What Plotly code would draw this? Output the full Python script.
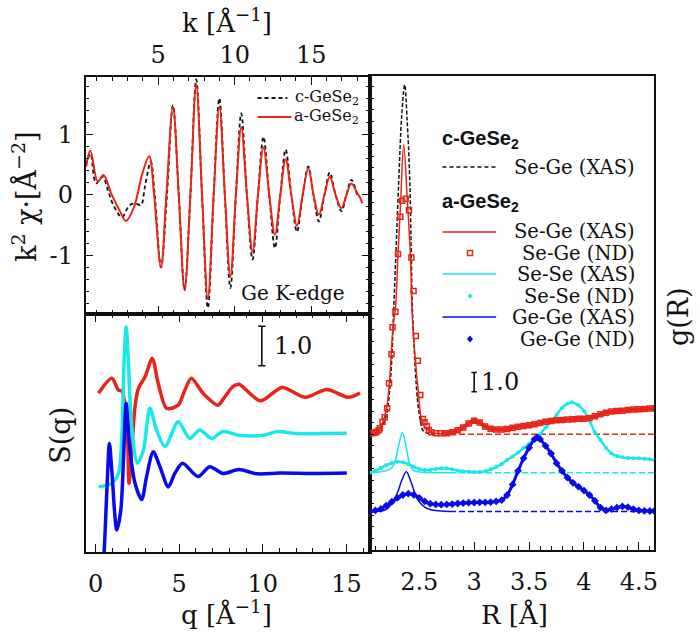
import plotly.graph_objects as go

# ---------------- data ----------------
# EXAFS k^2 chi(k), Ge K-edge
k_a = [0.30, 0.58, 1.06, 1.43, 1.93, 2.47, 2.90, 3.44, 3.98, 4.42, 4.74, 5.19, 5.54, 5.97, 6.35, 6.73, 7.11, 7.49,
       7.87, 8.25, 8.63, 9.00, 9.36, 9.72, 10.08, 10.43, 10.80, 11.17, 11.52, 11.88, 12.26, 12.63, 12.98, 13.33,
       13.70, 14.07, 14.44, 14.81, 15.15, 15.50, 15.86, 16.21, 16.59, 16.97, 17.30, 17.62, 18.03, 18.20, 18.33]
chi_a = [0.47, 0.73, 0.22, 0.33, 0.03, -0.25, -0.43, -0.19, 0.36, 0.64, 0.0, -1.20, 0.0, 1.46, 0.0, -1.58, 0.0, 1.82,
         0.0, -1.72, 0.0, 1.46, 0.0, -1.35, 0.0, 1.12, 0.0, -0.94, 0.0, 0.79, 0.0, -0.66, 0.0, 0.59,
         0.0, -0.51, 0.0, 0.44, 0.0, -0.33, 0.0, 0.30, 0.0, -0.22, 0.0, 0.19, 0.02, -0.05, -0.14]
k_c = [0.30, 0.58, 0.95, 1.38, 1.70, 2.03, 2.64, 3.00, 3.29, 3.60, 3.88, 4.15, 4.52, 4.78, 5.19, 5.58, 5.97, 6.35,
       6.73, 7.11, 7.49, 7.87, 8.25, 8.63, 9.00, 9.36, 9.72, 10.08, 10.43, 10.80, 11.17, 11.52, 11.88, 12.26,
       12.63, 12.98, 13.33, 13.70, 14.07, 14.44, 14.81, 15.15, 15.50, 15.86, 16.21, 16.59, 16.97, 17.30, 17.62, 18.05]
chi_c = [0.50, 0.68, 0.19, 0.30, 0.10, -0.14, -0.37, -0.22, -0.15, -0.15, -0.17, 0.15, 0.55, 0.0, -1.20, 0.0, 1.48, 0.0,
         -1.57, 0.0, 1.91, 0.0, -1.87, 0.0, 1.60, 0.0, -1.54, 0.0, 1.35, 0.0, -1.07, 0.0, 0.96, 0.0,
         -0.88, 0.0, 0.75, 0.0, -0.61, 0.0, 0.47, 0.0, -0.44, 0.0, 0.37, 0.0, -0.27, 0.0, 0.25, -0.05]

# Partial structure factors S(q)
q_sege = [0.18, 0.97, 1.37, 1.57, 1.87, 2.00, 2.16, 2.36, 2.56, 2.96, 3.39, 3.75, 4.25, 4.94, 5.34, 5.73, 6.43,
          7.32, 7.68, 8.21, 8.57, 9.86, 11.15, 12.54, 13.83, 15.12, 15.81]
s_sege = [1.02, 1.40, 1.10, 1.08, 0.34, -1.26, -0.42, 0.68, 1.14, 1.44, 1.90, 1.27, 0.64, 0.72, 1.10, 1.40, 1.02,
          0.72, 0.90, 1.19, 1.25, 0.83, 1.17, 0.92, 1.12, 0.92, 1.03]
q_sese = [0.18, 0.97, 1.37, 1.57, 1.71, 1.83, 1.96, 2.16, 2.50, 2.86, 3.25, 3.65, 4.15, 4.94, 5.63, 6.23, 6.92,
          7.62, 8.57, 10.06, 10.85, 12.0, 13.5, 15.02]
s_sese = [-0.35, -0.26, -0.01, 0.92, 2.86, 3.70, 2.86, 1.17, 0.25, 0.58, 1.64, 1.09, 0.67, 1.30, 0.88, 1.09, 0.88,
          1.05, 0.96, 0.96, 1.05, 1.00, 1.00, 1.01]
q_gege = [0.45, 0.52, 0.67, 0.83, 0.97, 1.27, 1.51, 1.67, 1.83, 2.06, 2.36, 2.76, 3.05, 3.45, 3.85, 4.35, 4.74,
          5.20, 6.13, 6.82, 7.62, 8.57, 9.66, 11.0, 13.0, 15.02]
s_gege = [-1.3, -0.95, 0.49, 1.75, 1.08, -0.44, 0.06, 1.33, 2.76, 1.58, 0.74, 0.33, 0.91, 1.54, 1.16, 0.65, 0.99,
          1.25, 0.91, 1.16, 0.99, 1.09, 0.98, 1.00, 0.99, 1.00]

# Pair distribution functions g(R)
r_c_sege_xas = [2.05, 2.10, 2.15, 2.20, 2.24, 2.267, 2.29, 2.315, 2.34, 2.367, 2.39, 2.412, 2.425, 2.437, 2.442,
                2.465, 2.487, 2.51, 2.533, 2.58, 2.65]
g_c_sege_xas = [0.0, 0.05, 0.3, 1.0, 3.0, 6.5, 9.8, 13.4, 16.5, 18.1, 16.2, 13.4, 10.0, 6.5, 5.9,
                3.2, 1.6, 0.7, 0.2, 0.05, 0.0]
r_sege_xas = [2.05, 2.10, 2.15, 2.20, 2.225, 2.261, 2.283, 2.306, 2.331, 2.358, 2.391, 2.419, 2.433, 2.442,
              2.487, 2.533, 2.609, 2.70, 2.78]
g_sege_xas = [0.0, 0.05, 0.4, 1.3, 2.46, 5.57, 6.52, 9.28, 12.13, 15.0, 12.13, 9.28, 6.52, 5.57,
              2.46, 0.56, 0.10, 0.02, 0.0]
r_sege_nd = [2.05, 2.07, 2.09, 2.11, 2.13, 2.141, 2.165, 2.186, 2.207, 2.225, 2.247, 2.256, 2.283, 2.306, 2.328,
             2.343, 2.376, 2.406, 2.428, 2.448, 2.469, 2.487, 2.509, 2.533, 2.548, 2.569, 2.587, 2.61, 2.65,
             2.70, 2.75, 2.80, 2.85, 2.90, 2.95, 3.00, 3.05, 3.10, 3.15, 3.20, 3.25, 3.30, 3.35, 3.40, 3.45,
             3.50, 3.55, 3.60, 3.65, 3.70, 3.75, 3.80, 3.85, 3.90, 3.95, 4.00, 4.05, 4.10, 4.15, 4.20, 4.25,
             4.30, 4.35, 4.40, 4.45, 4.50, 4.55, 4.60, 4.64]
g_sege_nd = [0.05, 0.05, 0.08, 0.12, 0.20, 0.31, 0.65, 0.88, 1.34, 2.64, 4.14, 5.54, 6.35, 9.34, 11.27,
             12.1, 12.2, 11.6, 9.15, 7.42, 5.09, 3.81, 2.03, 0.79, 0.62, 0.42, 0.22, 0.10, 0.05,
             0.05, 0.05, 0.10, 0.20, 0.35, 0.55, 0.70, 0.60, 0.40, 0.28, 0.25, 0.25, 0.27, 0.33, 0.38, 0.42,
             0.46, 0.52, 0.58, 0.64, 0.68, 0.72, 0.74, 0.76, 0.78, 0.80, 0.80, 0.84, 0.93, 1.03, 1.11, 1.17,
             1.20, 1.22, 1.25, 1.28, 1.29, 1.31, 1.33, 1.34]
r_sese_xas = [2.05, 2.15, 2.20, 2.25, 2.28, 2.31, 2.346, 2.38, 2.41, 2.44, 2.50, 2.60, 2.78]
g_sese_xas = [0.0, 0.05, 0.12, 0.25, 0.6, 1.35, 2.10, 1.35, 0.5, 0.15, 0.04, 0.01, 0.0]
r_sese_nd = [2.05, 2.10, 2.15, 2.20, 2.25, 2.30, 2.35, 2.40, 2.45, 2.50, 2.55, 2.60, 2.65, 2.70, 2.75, 2.80,
             2.85, 2.90, 2.95, 3.00, 3.05, 3.10, 3.15, 3.20, 3.25, 3.30, 3.35, 3.40, 3.45, 3.50, 3.55, 3.60,
             3.65, 3.70, 3.75, 3.80, 3.85, 3.89, 3.95, 4.00, 4.05, 4.10, 4.15, 4.20, 4.25, 4.30, 4.35, 4.40,
             4.45, 4.50, 4.55, 4.60, 4.64]
g_sese_nd = [0.0, 0.10, 0.25, 0.40, 0.50, 0.57, 0.55, 0.45, 0.32, 0.20, 0.14, 0.15, 0.20, 0.23, 0.23, 0.18,
             0.12, 0.08, 0.05, 0.04, 0.04, 0.08, 0.18, 0.30, 0.45, 0.66, 0.85, 1.05, 1.28, 1.50, 1.72, 2.00,
             2.35, 2.62, 3.00, 3.36, 3.58, 3.66, 3.50, 3.20, 2.70, 2.10, 1.70, 1.30, 1.00, 0.87, 0.80, 0.77,
             0.76, 0.75, 0.73, 0.70, 0.66]
r_gege_xas = [2.05, 2.15, 2.20, 2.25, 2.30, 2.34, 2.382, 2.42, 2.46, 2.50, 2.55, 2.60, 2.65, 2.70, 2.78]
g_gege_xas = [0.0, 0.02, 0.10, 0.40, 0.95, 1.60, 2.06, 1.60, 0.95, 0.50, 0.22, 0.10, 0.05, 0.02, 0.0]
r_gege_nd = [2.05, 2.10, 2.15, 2.20, 2.25, 2.30, 2.35, 2.40, 2.45, 2.50, 2.55, 2.60, 2.65, 2.70, 2.75, 2.80,
             2.85, 2.90, 2.95, 3.00, 3.05, 3.10, 3.15, 3.20, 3.25, 3.30, 3.35, 3.40, 3.45, 3.50, 3.55, 3.575,
             3.60, 3.65, 3.70, 3.75, 3.80, 3.85, 3.90, 3.95, 4.00, 4.05, 4.10, 4.15, 4.20, 4.25, 4.30, 4.35,
             4.40, 4.45, 4.50, 4.55, 4.60, 4.64]
g_gege_nd = [0.0, 0.05, 0.13, 0.30, 0.50, 0.70, 0.85, 0.92, 0.86, 0.70, 0.52, 0.40, 0.36, 0.35, 0.36, 0.38,
             0.41, 0.43, 0.45, 0.46, 0.47, 0.47, 0.48, 0.52, 0.58, 0.85, 1.40, 2.10, 2.75, 3.30, 3.75, 3.84,
             3.75, 3.40, 3.00, 2.50, 2.10, 1.75, 1.48, 1.28, 1.08, 0.85, 0.55, 0.20, 0.05, 0.12, 0.20, 0.26,
             0.22, 0.12, 0.05, 0.03, 0.02, 0.02]
r_zero = [2.78, 4.64]
g_zero = [0.0, 0.0]

# vertical offsets of stacked curves
OFF_S = {"sege": 3.0, "sese": 2.0, "gege": 1.0}
OFF_G = {"sege": 6.0, "sese": 4.0, "gege": 2.0}
SCALE_BAR = 1.0

# ---------------- style ----------------
RED = "#e8251a"
CYAN = "#19e8e8"
BLUE = "#0a0ae8"
BLACK = "#111111"
SERIF = "DejaVu Serif"
W, H = 700, 632


def px(x):
    return x / W


def py(y):
    return 1 - y / H


XL = [px(86), px(372)]
XR = [px(372), px(658)]
Y_TOP = [py(314), py(77)]
Y_BOT = [py(552), py(314)]
Y_RIGHT = [py(550), py(76)]

fig = go.Figure()

# --- EXAFS
fig.add_trace(go.Scatter(x=k_c, y=chi_c, xaxis="x", yaxis="y", mode="lines",
                         line=dict(color=BLACK, width=1.8, dash="4px,3px", shape="spline", smoothing=1.0)))
fig.add_trace(go.Scatter(x=k_a, y=chi_a, xaxis="x", yaxis="y", mode="lines",
                         line=dict(color=RED, width=2, shape="spline", smoothing=1.0)))

# --- S(q)
for q, s, key, col in [(q_sege, s_sege, "sege", RED), (q_sese, s_sese, "sese", CYAN), (q_gege, s_gege, "gege", BLUE)]:
    fig.add_trace(go.Scatter(x=q, y=[v + OFF_S[key] for v in s], xaxis="x2", yaxis="y2", mode="lines",
                             line=dict(color=col, width=3.5, shape="spline", smoothing=0.8)))

# --- g(R)
for key, col in [("sege", RED), ("sese", CYAN), ("gege", BLUE)]:
    fig.add_trace(go.Scatter(x=r_zero, y=[v + OFF_G[key] for v in g_zero], xaxis="x3", yaxis="y3", mode="lines",
                             line=dict(color=col, width=1.5, dash="6px,3px")))

fig.add_trace(go.Scatter(x=r_sese_nd, y=[v + OFF_G["sese"] for v in g_sese_nd], xaxis="x3", yaxis="y3",
                         mode="lines+markers", line=dict(color=CYAN, width=2.5, shape="spline"),
                         marker=dict(color=CYAN, size=4, symbol="circle")))
fig.add_trace(go.Scatter(x=r_sese_xas, y=[v + OFF_G["sese"] for v in g_sese_xas], xaxis="x3", yaxis="y3",
                         mode="lines", line=dict(color=CYAN, width=1.5, shape="spline")))
fig.add_trace(go.Scatter(x=r_gege_nd, y=[v + OFF_G["gege"] for v in g_gege_nd], xaxis="x3", yaxis="y3",
                         mode="lines+markers", line=dict(color=BLUE, width=3, shape="spline"),
                         marker=dict(color=BLUE, size=6, symbol="diamond")))
fig.add_trace(go.Scatter(x=r_gege_xas, y=[v + OFF_G["gege"] for v in g_gege_xas], xaxis="x3", yaxis="y3",
                         mode="lines", line=dict(color=BLUE, width=1.5, shape="spline")))
fig.add_trace(go.Scatter(x=r_c_sege_xas, y=[v + OFF_G["sege"] for v in g_c_sege_xas], xaxis="x3", yaxis="y3",
                         mode="lines", line=dict(color=BLACK, width=1.5, dash="4px,2px", shape="spline")))
fig.add_trace(go.Scatter(x=r_sege_xas, y=[v + OFF_G["sege"] for v in g_sege_xas], xaxis="x3", yaxis="y3",
                         mode="lines", line=dict(color=RED, width=1.5, shape="spline")))
fig.add_trace(go.Scatter(x=r_sege_nd[29:], y=[v + OFF_G["sege"] for v in g_sege_nd[29:]], xaxis="x3", yaxis="y3",
                         mode="lines", line=dict(color=RED, width=4, shape="spline")))
fig.add_trace(go.Scatter(x=r_sege_nd, y=[v + OFF_G["sege"] for v in g_sege_nd], xaxis="x3", yaxis="y3",
                         mode="markers", marker=dict(color=RED, size=5, symbol="square-open", line=dict(width=1.5))))

# ---------------- axes ----------------
tickfont = dict(family=SERIF, size=24, color=BLACK)
common = dict(showgrid=False, zeroline=False, showline=True, linecolor=BLACK, linewidth=1.6,
              ticks="inside", tickcolor=BLACK, tickwidth=1.2, tickfont=tickfont)

fig.update_layout(
    xaxis=dict(common, domain=XL, anchor="y", side="top", range=[0.26, 18.83], tick0=0, dtick=5, ticklen=8,
               mirror="allticks", minor=dict(dtick=1, ticklen=4, ticks="inside", tickcolor=BLACK),
               ticklabelstandoff=3),
    yaxis=dict(common, domain=Y_TOP, anchor="x", range=[-1.97, 1.95], tickvals=[-1, 0, 1],
               ticktext=["-1", "0", "1"], ticklen=8, mirror="allticks",
               minor=dict(dtick=0.2, ticklen=4, ticks="inside", tickcolor=BLACK), ticklabelstandoff=6),
    xaxis2=dict(common, domain=XL, anchor="y2", range=[-0.6, 16.4], tick0=0, dtick=5, ticklen=8,
                mirror="allticks", minor=dict(dtick=1, ticklen=4, ticks="inside", tickcolor=BLACK),
                ticklabelstandoff=9),
    yaxis2=dict(common, domain=Y_BOT, anchor="x2", range=[0, 6.03], ticks="", showticklabels=False, mirror=True),
    xaxis3=dict(common, domain=XR, anchor="y3", range=[2.05, 4.64], tick0=2.5, dtick=0.5, ticklen=8,
                mirror=True, minor=dict(dtick=0.1, ticklen=4, ticks="inside", tickcolor=BLACK),
                ticklabelstandoff=9),
    yaxis3=dict(common, domain=Y_RIGHT, anchor="x3", range=[0, 24.56], dtick=0.6, ticklen=4,
                showticklabels=False, mirror=True),
    width=W, height=H, margin=dict(l=0, r=0, t=0, b=0),
    paper_bgcolor="white", plot_bgcolor="white", showlegend=False,
)

shapes = []
annotations = []


def ann(text, x, y, size=24, xanchor="center", angle=0, family=SERIF, **kw):
    annotations.append(dict(text=text, x=px(x), y=py(y), xref="paper", yref="paper", showarrow=False,
                            xanchor=xanchor, yanchor="middle", textangle=angle,
                            font=dict(family=family, size=size, color=BLACK), **kw))


# axis titles
ann("k [Å<sup>−1</sup>]", 228, 21, size=26)
ann("k<sup>2</sup> χ·[Å<sup>−2</sup>]", 24, 197, size=27, angle=-90)
ann("S(q)", 60, 435, size=27, angle=-90)
ann("q [Å<sup>−1</sup>]", 228, 613, size=26)
ann("R [Å]", 517, 614, size=26)
ann("g(R)", 682, 317, size=27, angle=-90)
ann("Ge K-edge", 295, 293, size=20)

# top-left legend
shapes.append(dict(type="line", xref="paper", yref="paper", x0=px(259), x1=px(289), y0=py(98), y1=py(98),
                   line=dict(color=BLACK, width=1.8, dash="4px,3px")))
shapes.append(dict(type="line", xref="paper", yref="paper", x0=px(259), x1=px(293), y0=py(117), y1=py(117),
                   line=dict(color=RED, width=2)))
ann("c-GeSe<sub>2</sub>", 363, 98, size=16, xanchor="right")
ann("a-GeSe<sub>2</sub>", 363, 117, size=16, xanchor="right")

# right legend
SANS = "Liberation Sans"
ann("<b>c-GeSe<sub>2</sub></b>", 443, 139, size=20, xanchor="left", family=SANS)
ann("<b>a-GeSe<sub>2</sub></b>", 443, 203, size=20, xanchor="left", family=SANS)
leg_rows = [
    (167, "line", BLACK, "4px,3px", "Se-Ge (XAS)"),
    (232, "line", RED, "solid", "Se-Ge (XAS)"),
    (253, "square", RED, None, "Se-Ge (ND)"),
    (274, "line", CYAN, "solid", "Se-Se (XAS)"),
    (296, "dot", CYAN, None, "Se-Se (ND)"),
    (317, "line", BLUE, "solid", "Ge-Ge (XAS)"),
    (339, "diamond", BLUE, None, "Ge-Ge (ND)"),
]
mx = 472.7
for yy, kind, col, dash, label in leg_rows:
    if kind == "line":
        shapes.append(dict(type="line", xref="paper", yref="paper", x0=px(445), x1=px(499), y0=py(yy), y1=py(yy),
                           line=dict(color=col, width=1.6, dash=dash)))
    elif kind == "square":
        shapes.append(dict(type="rect", xref="paper", yref="paper", x0=px(mx - 2.5), x1=px(mx + 2.5),
                           y0=py(yy + 2.5), y1=py(yy - 2.5), line=dict(color=col, width=1.5)))
    elif kind == "dot":
        shapes.append(dict(type="circle", xref="paper", yref="paper", x0=px(mx - 2), x1=px(mx + 2),
                           y0=py(yy + 2), y1=py(yy - 2), line=dict(color=col, width=0), fillcolor=col))
    else:
        path = "M {} {} L {} {} L {} {} L {} {} Z".format(px(mx), py(yy - 3.5), px(mx + 3), py(yy),
                                                         px(mx), py(yy + 3.5), px(mx - 3), py(yy))
        shapes.append(dict(type="path", xref="paper", yref="paper", path=path, line=dict(color=col, width=0),
                           fillcolor=col))
    ann(label, 641, yy, size=19.5, xanchor="right")


# scale bars (1.0 in data units of each panel)
def scale_bar(xref, yref, x, y0, cap):
    shapes.append(dict(type="line", xref=xref, yref=yref, x0=x, x1=x, y0=y0, y1=y0 + SCALE_BAR,
                       line=dict(color=BLACK, width=1.6)))
    for yy in (y0, y0 + SCALE_BAR):
        shapes.append(dict(type="line", xref=xref, yref=yref, x0=x - cap, x1=x + cap, y0=yy, y1=yy,
                           line=dict(color=BLACK, width=1.6)))


scale_bar("x2", "y2", 9.94, 4.72, 0.22)
annotations.append(dict(text="1.0", x=10.55, y=4.72 + SCALE_BAR / 2, xref="x2", yref="y2", showarrow=False,
                        xanchor="left", yanchor="middle", font=dict(family=SERIF, size=24, color=BLACK)))
scale_bar("x3", "y3", 3.0, 8.2, 0.025)
annotations.append(dict(text="1.0", x=3.04, y=8.2 + SCALE_BAR / 2, xref="x3", yref="y3", showarrow=False,
                        xanchor="left", yanchor="middle", font=dict(family=SERIF, size=24, color=BLACK)))

fig.update_layout(shapes=shapes, annotations=annotations)
fig.write_html("out.html", config={"displayModeBar": False},
               post_script="document.body.style.margin='0';document.body.style.overflow='hidden';")
